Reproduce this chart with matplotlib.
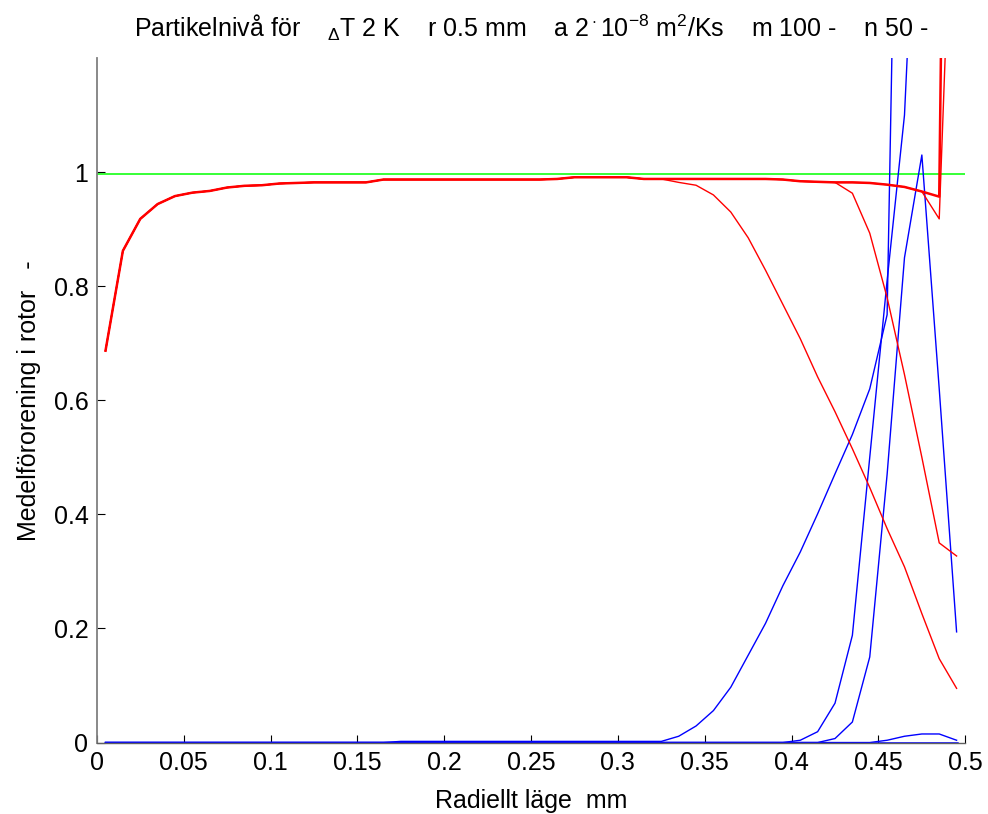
import numpy as np
import matplotlib
matplotlib.use("Agg")
import matplotlib.pyplot as plt

plt.rcParams['font.family'] = ['Liberation Sans', 'DejaVu Sans']
plt.rcParams['mathtext.fontset'] = 'custom'
plt.rcParams['mathtext.rm'] = 'Liberation Sans'
plt.rcParams['mathtext.it'] = 'Liberation Sans'

# radial positions (cell centres)
r = [0.005, 0.015, 0.025, 0.035, 0.045, 0.055, 0.065, 0.075, 0.085, 0.095,
     0.105, 0.115, 0.125, 0.135, 0.145, 0.155, 0.165, 0.175, 0.185, 0.195,
     0.205, 0.215, 0.225, 0.235, 0.245, 0.255, 0.265, 0.275, 0.285, 0.295,
     0.305, 0.315, 0.325, 0.335, 0.345, 0.355, 0.365, 0.375, 0.385, 0.395,
     0.405, 0.415, 0.425, 0.435, 0.445, 0.455, 0.465, 0.475, 0.485, 0.495]

# common start of the red curves (first 33 points, r = 0.005 .. 0.325)
red_head = [0.687, 0.862, 0.918, 0.944, 0.958, 0.964, 0.967, 0.973, 0.976, 0.977,
            0.980, 0.981, 0.982, 0.982, 0.982, 0.982, 0.987, 0.987, 0.987, 0.987,
            0.987, 0.987, 0.987, 0.987, 0.987, 0.987, 0.988, 0.991, 0.991, 0.991,
            0.991, 0.988, 0.988]

red1_tail = [0.988, 0.988, 0.988, 0.988, 0.988, 0.988, 0.987, 0.984, 0.983, 0.982,
             0.982, 0.981, 0.978, 0.974, 0.966, 0.957, 3.5]
red2_tail = [0.988, 0.988, 0.988, 0.988, 0.988, 0.988, 0.987, 0.984, 0.983, 0.982,
             0.982, 0.981, 0.978, 0.974, 0.966, 0.918, 1.75]
red3_tail = [0.988, 0.988, 0.988, 0.988, 0.988, 0.988, 0.987, 0.984, 0.983, 0.982,
             0.963, 0.893, 0.780, 0.645, 0.500, 0.350, 0.327]
red4_tail = [0.982, 0.977, 0.960, 0.930, 0.885, 0.828, 0.768, 0.708, 0.641, 0.580,
             0.515, 0.447, 0.375, 0.308, 0.226, 0.147, 0.095]

red1 = red_head + red1_tail
red2 = red_head + red2_tail
red3 = red_head + red3_tail
red4 = red_head + red4_tail

blue1 = [0.0] * 17 + [0.002] * 16 + [0.011, 0.029, 0.056, 0.097, 0.153, 0.209,
         0.275, 0.334, 0.401, 0.471, 0.540, 0.620, 0.750, 2.4, 3.5, 4.0, 4.5]
blue2 = [0.0] * 40 + [0.004, 0.019, 0.069, 0.188, 0.500, 0.810, 1.100, 1.75,
                      2.5, 3.0]
blue3 = [0.0] * 42 + [0.007, 0.036, 0.150, 0.470, 0.850, 1.030, 0.620, 0.194]
blue4 = [0.0] * 45 + [0.004, 0.011, 0.015, 0.015, 0.004]
blue5 = [0.0] * 50

reference = 0.997

fig = plt.figure(figsize=(9.88, 8.14), dpi=100)
ax = fig.add_axes([0.098, 0.0878, 0.879, 0.8409])

ax.axhline(reference, color='#00ff00', lw=1.1)
for b in [blue5, blue1, blue2, blue3, blue4]:
    ax.plot(r, b, color='#0000ff', lw=1.0)
ax.plot(r, blue5, color='#0000ff', lw=1.8)
for rr in [red4, red3, red2]:
    ax.plot(r, rr, color='#ff0000', lw=1.0)
ax.plot(r, red1, color='#ff0000', lw=1.8)

ax.set_xlim(0, 0.5)
ax.set_ylim(0, 1.2)
xt = [0, 0.05, 0.1, 0.15, 0.2, 0.25, 0.3, 0.35, 0.4, 0.45, 0.5]
ax.set_xticks(xt)
ax.set_xticklabels(['0', '0.05', '0.1', '0.15', '0.2', '0.25', '0.3', '0.35',
                    '0.4', '0.45', '0.5'])
yt = [0, 0.2, 0.4, 0.6, 0.8, 1]
ax.set_yticks(yt)
ax.set_yticklabels(['0', '0.2', '0.4', '0.6', '0.8', '1'])
ax.tick_params(direction='in', length=6, width=0.8, labelsize=18, colors='black',
               pad=6)
ax.spines['top'].set_visible(False)
ax.spines['right'].set_visible(False)
ax.spines['left'].set_color('#808080')
ax.spines['bottom'].set_color('#606060')
ax.spines['left'].set_linewidth(1.3)
ax.spines['bottom'].set_linewidth(1.0)

ax.set_xlabel('Radiellt läge  mm', fontsize=18, labelpad=10)
ax.set_ylabel('Medelförorening i rotor   -', fontsize=18, labelpad=9)
ax.set_title(r'Partikelnivå för    $_\Delta$T 2 K    r 0.5 mm    a 2$^\cdot$10$^{-8}$ m$^2$/Ks    m 100 -    n 50 -',
             fontsize=18, pad=15)

fig.savefig('out.png', dpi=100)
